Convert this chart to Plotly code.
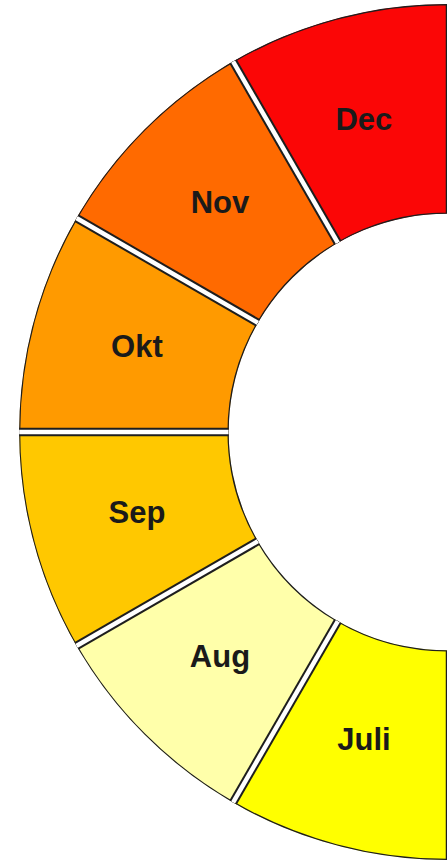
import plotly.graph_objects as go

months = ["Dec", "Nov", "Okt", "Sep", "Aug", "Juli"]
theta_center = [105, 135, 165, 195, 225, 255]   # degrees, counter-clockwise from east
seg_width = [30, 30, 30, 30, 30, 30]
values = [1, 1, 1, 1, 1, 1]
colors = ["#fb0606", "#ff6a00", "#ff9a00", "#ffc800", "#ffffaa", "#ffff00"]

OUTLINE = "#1e1e1e"

fig = go.Figure()

fig.add_trace(go.Barpolar(
    r=values, theta=theta_center, width=seg_width,
    marker=dict(color=colors, line=dict(color=OUTLINE, width=2.5)),
    hoverinfo="skip", showlegend=False,
))

# boundaries between neighbouring months (white gap with dark borders)
bounds = [t + w / 2 for t, w in zip(theta_center[:-1], seg_width[:-1])]
br, bt = [], []
for b in bounds:
    br += [0, 1, None]
    bt += [b, b, None]
fig.add_trace(go.Scatterpolar(r=br, theta=bt, mode="lines",
                              line=dict(color=OUTLINE, width=8.5),
                              hoverinfo="skip", showlegend=False))
fig.add_trace(go.Scatterpolar(r=br, theta=bt, mode="lines",
                              line=dict(color="white", width=4.5),
                              hoverinfo="skip", showlegend=False))

fig.add_trace(go.Scatterpolar(
    r=[0.49] * len(months), theta=theta_center, mode="text", text=months,
    textfont=dict(family="Liberation Sans, Arial, sans-serif", size=31,
                  color="#1a1a1a", weight="bold"),
    hoverinfo="skip", showlegend=False,
))

fig.update_layout(
    width=447, height=860,
    margin=dict(l=19, r=0, t=4, b=0),
    paper_bgcolor="white",
    polar=dict(
        sector=[90, 270],
        hole=0.51,
        bgcolor="white",
        radialaxis=dict(range=[0, 1], visible=False, showgrid=False),
        angularaxis=dict(visible=False, showgrid=False, rotation=0,
                         direction="counterclockwise"),
    ),
)

fig.write_html(
    "out.html",
    config={"displayModeBar": False},
    post_script="document.body.style.margin='0';document.body.style.overflow='hidden';",
)
